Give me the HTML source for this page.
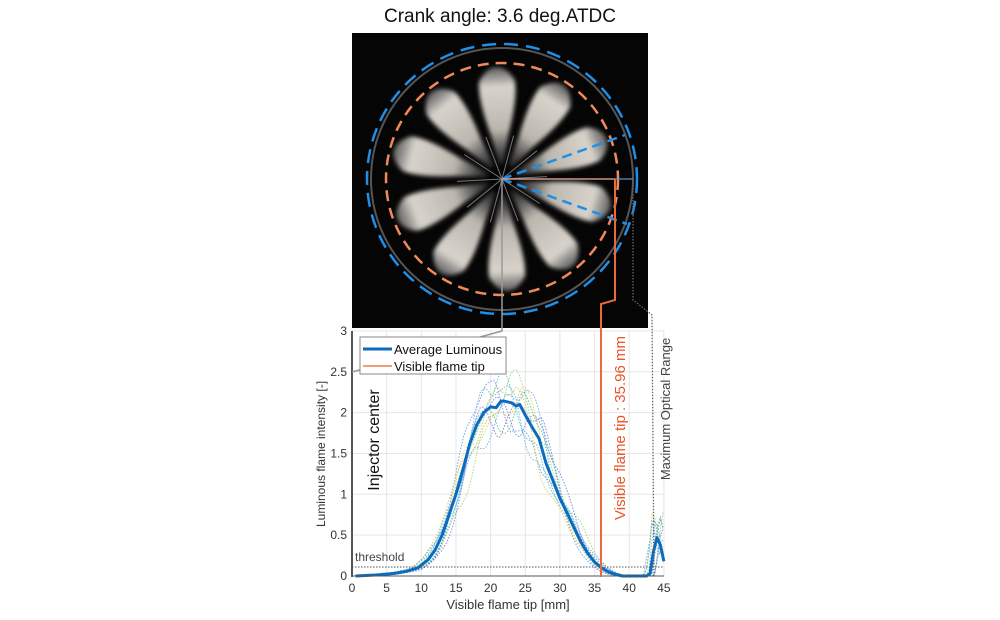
<!DOCTYPE html>
<html><head><meta charset="utf-8"><style>
html,body{margin:0;padding:0;background:#fff;}
svg{display:block;font-family:"Liberation Sans",sans-serif;}
</style></head><body>
<svg id="s" width="1000" height="620" viewBox="0 0 1000 620">
<defs>
<linearGradient id="fl" x1="0" y1="0" x2="1" y2="0">
<stop offset="0" stop-color="#999" stop-opacity="0.2"/>
<stop offset="0.35" stop-color="#e8e2d8" stop-opacity="0.8"/>
<stop offset="0.8" stop-color="#f0ebe2" stop-opacity="0.9"/>
<stop offset="1" stop-color="#bbb" stop-opacity="0.5"/>
</linearGradient>
<filter id="bl"><feGaussianBlur stdDeviation="2"/></filter>
</defs>
<text x="500" y="22" font-size="19" text-anchor="middle" fill="#111">Crank angle: 3.6 deg.ATDC</text>
<rect x="352" y="33" width="296" height="295" fill="#050505"/>
<g id="flames" filter="url(#bl)"></g>
<g id="spokes"></g>
<circle cx="502" cy="179" r="131" fill="none" stroke="#555" stroke-width="2"/>
<circle cx="502" cy="179" r="116" fill="none" stroke="#f08a5a" stroke-width="2.5" stroke-dasharray="11 7"/>
<circle cx="502" cy="179" r="135" fill="none" stroke="#1f8fe8" stroke-width="2.5" stroke-dasharray="14 8"/>
<line x1="502" y1="179" x2="625" y2="135" stroke="#1f8fe8" stroke-width="2.5" stroke-dasharray="10 6"/>
<line x1="502" y1="179" x2="627" y2="224" stroke="#1f8fe8" stroke-width="2.5" stroke-dasharray="10 6"/>
<line x1="502" y1="179" x2="633" y2="179" stroke="#5b8fd0" stroke-width="1.2"/>
<line x1="502" y1="179" x2="615" y2="179" stroke="#e99a7a" stroke-width="1.2"/>
<g id="grid" stroke="#e6e6e6" stroke-width="1"></g>
<g id="series" fill="none"></g>
<polyline points="352,567 664,567" stroke="#555" stroke-width="1" stroke-dasharray="1.5 1.5" fill="none"/>
<text x="355" y="561" font-size="12" fill="#444">threshold</text>
<line x1="352" y1="331" x2="352" y2="577" stroke="#555" stroke-width="2"/>
<line x1="352" y1="576" x2="664" y2="576" stroke="#555" stroke-width="1"/>
<g id="ticks" font-size="12" fill="#333"></g>
<text x="508" y="609" font-size="13" text-anchor="middle" fill="#333">Visible flame tip [mm]</text>
<text transform="translate(325,454) rotate(-90)" font-size="12" text-anchor="middle" fill="#333">Luminous flame intensity [-]</text>
<text transform="translate(379,440) rotate(-90)" font-size="16" text-anchor="middle" fill="#111">Injector center</text>
<polyline points="601,577 601,304 615,300 615,179" fill="none" stroke="#e8693a" stroke-width="2"/>
<text transform="translate(625,428) rotate(-90)" font-size="15" text-anchor="middle" fill="#e8552a">Visible flame tip : 35.96 mm</text>
<polyline points="633,179 633,300 652,315 654,577" fill="none" stroke="#666" stroke-width="1.3" stroke-dasharray="1.5 1.5"/>
<text transform="translate(670,409) rotate(-90)" font-size="13" text-anchor="middle" fill="#444">Maximum Optical Range</text>
<polyline points="502,179 502,331 352,372" fill="none" stroke="#999" stroke-width="1.5"/>
<rect x="360" y="337" width="146" height="37" fill="#fff" stroke="#888" stroke-width="1"/>
<line x1="363" y1="349" x2="392" y2="349" stroke="#0b6bbf" stroke-width="3"/>
<text x="394" y="354" font-size="13" fill="#111">Average Luminous</text>
<line x1="363" y1="366" x2="392" y2="366" stroke="#e8804e" stroke-width="1.5"/>
<text x="394" y="371" font-size="13" fill="#111">Visible flame tip</text>
</svg>
<script>
var NS="http://www.w3.org/2000/svg";
function el(t,a,p){var e=document.createElementNS(NS,t);for(var k in a)e.setAttribute(k,a[k]);p.appendChild(e);return e;}
var fg=document.getElementById('flames'),sp=document.getElementById('spokes');
for(var k=0;k<10;k++){var a=-93+36*k;
 var g=el('g',{transform:'translate(502,179) rotate('+a+')'},fg);
 el('path',{d:'M15,-2 L45,-9 Q80,-20 98,-18 Q112,-10 112,0 Q112,10 98,18 Q80,20 45,9 L15,2 Z',fill:'url(#fl)'},g);
 var g2=el('g',{transform:'translate(502,179) rotate('+(a+18)+')'},sp);
 el('line',{x1:0,y1:0,x2:45,y2:0,stroke:'#777','stroke-width':1},g2);
}
function X(v){return 352+v*6.93;}function Y(v){return 576-v*81.7;}
var grid=document.getElementById('grid'),ticks=document.getElementById('ticks');
for(var i=0;i<=45;i+=5){el('line',{x1:X(i),y1:331,x2:X(i),y2:576},grid);
 var t=el('text',{x:X(i),y:592,'text-anchor':'middle'},ticks);t.textContent=i;}
for(var j=0;j<=6;j++){var v=j*0.5;el('line',{x1:352,y1:Y(v),x2:664,y2:Y(v)},grid);
 var t=el('text',{x:347,y:Y(v)+4,'text-anchor':'end'},ticks);t.textContent=v;}
var d=[[0.5,0],[3,0.01],[6,0.03],[8,0.06],[9.5,0.1],[11,0.2],[12,0.32],[13,0.5],[14,0.75],[15,1.0],[16,1.3],[17,1.62],[18,1.85],[19,2.0],[20,2.07],[20.8,2.06],[21.5,2.14],[22,2.14],[23,2.12],[23.7,2.08],[24.2,2.1],[25,1.97],[26,1.82],[27,1.68],[28,1.38],[29,1.17],[30,0.95],[31,0.78],[32,0.6],[33,0.42],[34,0.28],[35,0.17],[36,0.1],[37,0.05],[38,0.02],[39,0],[42.5,0],[43,0.03],[43.5,0.3],[44,0.47],[44.5,0.38],[45,0.18]];
function f(x){for(var i=0;i<d.length-1;i++){if(x>=d[i][0]&&x<=d[i+1][0]){var t=(x-d[i][0])/(d[i+1][0]-d[i][0]);return d[i][1]+t*(d[i+1][1]-d[i][1]);}}return 0;}
var sg=document.getElementById('series');
var cols=['#f0c040','#8fd06a','#3fc0b0','#5090e0','#7a60d0','#4aa8e0','#d0c050','#60b0d0','#6070e0','#40c080'];
for(var c=0;c<10;c++){var pts=[];var sh=0.9*Math.sin(c*1.7);
 for(var x=0.5;x<=45;x+=0.4){var y=f(Math.min(45,Math.max(0.5,x-sh)));
  var n=y*(0.12*Math.sin(x*0.55+c*1.3)+0.07*Math.sin(x*1.3+c*2.2));
  if(x>43)n+=y*0.7*Math.abs(Math.sin(c*1.9));
  pts.push(X(x).toFixed(1)+','+Y(Math.max(0,y+n)).toFixed(1));}
 el('polyline',{points:pts.join(' '),stroke:cols[c],'stroke-width':1,'stroke-dasharray':'1.5 1.5',opacity:0.8},sg);}
el('polyline',{points:d.map(function(p){return X(p[0])+','+Y(p[1]);}).join(' '),stroke:'#0b6bbf','stroke-width':3,'stroke-linejoin':'round'},sg);
</script>
</body></html>
